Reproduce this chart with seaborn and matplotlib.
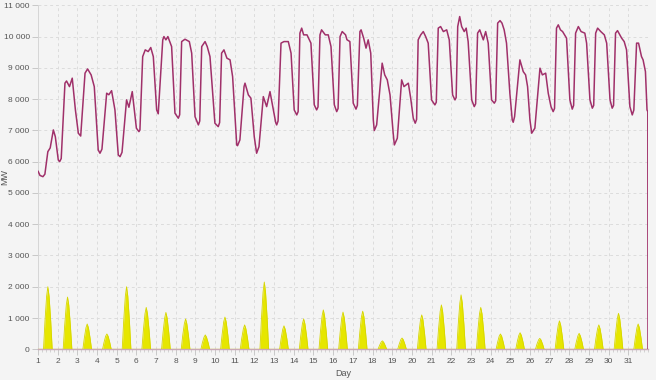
import numpy as np
import pandas as pd
import matplotlib
matplotlib.use("Agg")
import matplotlib.pyplot as plt
from matplotlib.ticker import MultipleLocator, FuncFormatter, AutoMinorLocator
import seaborn as sns

# ---- data ----
load_day = [1.0, 1.1, 1.25, 1.35, 1.5, 1.62, 1.78, 1.88, 2.03, 2.1, 2.18, 2.37, 2.45, 2.6, 2.74, 2.9,
            3.05, 3.17, 3.39, 3.52, 3.7, 3.86, 4.06, 4.15, 4.25, 4.49, 4.6, 4.74, 4.91,
            5.08, 5.17, 5.27, 5.5, 5.62, 5.79, 6.0, 6.13, 6.18, 6.32, 6.45, 6.6, 6.73, 6.86,
            7.03, 7.11, 7.34, 7.4, 7.5, 7.6, 7.79, 7.96, 8.13, 8.2, 8.3, 8.47, 8.69, 8.81,
            8.98, 9.15, 9.22, 9.32, 9.49, 9.6, 9.74, 9.99, 10.16, 10.23, 10.33, 10.45, 10.6, 10.76, 10.89,
            11.1, 11.14, 11.26, 11.47, 11.52, 11.69, 11.82, 11.99, 12.11, 12.23, 12.45, 12.62, 12.79, 12.96,
            13.08, 13.13, 13.2, 13.35, 13.5, 13.72, 13.86, 14.02, 14.15, 14.22, 14.31, 14.4, 14.5, 14.67, 14.87,
            15.04, 15.16, 15.23, 15.33, 15.41, 15.6, 15.75, 15.89, 16.06, 16.18, 16.25, 16.35, 16.46, 16.63, 16.7, 16.85,
            17.02, 17.16, 17.23, 17.36, 17.42, 17.55, 17.67, 17.78, 17.91, 18.04, 18.09, 18.21, 18.49, 18.62, 18.75, 18.89,
            19.05, 19.11, 19.26, 19.48, 19.6, 19.82, 19.94, 20.07, 20.17, 20.24, 20.32, 20.45, 20.58, 20.7, 20.83,
            21.0, 21.17, 21.24, 21.34, 21.46, 21.6, 21.77, 21.9, 22.07, 22.19, 22.25, 22.33, 22.43, 22.53, 22.66, 22.76, 22.86,
            23.04, 23.17, 23.24, 23.34, 23.45, 23.63, 23.75, 23.88, 24.05, 24.19, 24.26, 24.36, 24.48, 24.58, 24.69, 24.81,
            24.98, 25.1, 25.15, 25.22, 25.49, 25.66, 25.78, 25.88, 26.0, 26.09, 26.25, 26.51, 26.63, 26.8, 26.93,
            27.07, 27.18, 27.25, 27.35, 27.44, 27.55, 27.66, 27.86, 28.03, 28.15, 28.22, 28.32, 28.46, 28.6, 28.79, 28.88,
            29.05, 29.17, 29.24, 29.34, 29.44, 29.6, 29.78, 29.9, 30.07, 30.18, 30.25, 30.35, 30.45, 30.66, 30.79, 30.91,
            31.08, 31.2, 31.28, 31.42, 31.52, 31.67, 31.75, 31.87, 31.95, 31.99, 32.0]
load_mw = [5700, 5560, 5520, 5600, 6320, 6440, 7015, 6800, 6055, 6000, 6100, 8510, 8580, 8400, 8670, 7660,
           6910, 6820, 8830, 8965, 8775, 8400, 6375, 6270, 6400, 8190, 8140, 8270, 7655,
           6215, 6160, 6300, 7975, 7740, 8240, 7070, 6960, 7015, 9360, 9575, 9520, 9650, 9360,
           7655, 7530, 9895, 10000, 9895, 10000, 9680, 7550, 7390, 7500, 9840, 9915, 9840, 9470,
           7440, 7175, 7300, 9680, 9840, 9680, 9360, 7230, 7120, 7250, 9470, 9575, 9310, 9255, 8720,
           6535, 6510, 6695, 8400, 8510, 8135, 8030, 6800, 6270, 6480, 8080, 7760, 8240, 7655,
           7250, 7175, 7300, 9790, 9840, 9840, 9470, 7655, 7495, 7600, 10110, 10270, 10055, 10055, 9790,
           7815, 7655, 7750, 10055, 10215, 10055, 10055, 9680, 7815, 7600, 7700, 10000, 10160, 10055, 9900, 9840,
           7870, 7680, 7800, 10160, 10215, 9950, 9630, 9895, 9470, 7335, 6995, 7175, 9150, 8775, 8615, 8135,
           6910, 6535, 6750, 8615, 8400, 8510, 8030, 7390, 7230, 7350, 9895, 10055, 10160, 10000, 9790,
           7975, 7815, 7900, 10270, 10320, 10160, 10215, 9895, 8135, 7975, 8050, 10320, 10640, 10320, 10160, 10270, 9840,
           7975, 7760, 7850, 10110, 10215, 9895, 10160, 9790, 7975, 7870, 7950, 10430, 10510, 10430, 10215, 9790,
           8190, 7335, 7260, 7440, 9255, 8880, 8775, 8400, 7335, 6910, 7070, 8990, 8775, 8830, 8190,
           7760, 7600, 7700, 10270, 10375, 10215, 10160, 9950, 7975, 7680, 7800, 10110, 10320, 10160, 10110, 9790,
           7975, 7710, 7800, 10110, 10270, 10160, 10055, 9790, 7975, 7710, 7800, 10110, 10190, 9950, 9840, 9575,
           7760, 7495, 7650, 9790, 9790, 9360, 9255, 8880, 7655, 7600, 0]

solar_hours = [6.7, 8.5, 10.5, 12, 13.5, 15.5, 17.3]
solar_rows = [
    [0, 900, 1700, 2000, 1700, 900, 0],
    [0, 750, 1420, 1670, 1420, 750, 0],
    [0, 360, 690, 810, 690, 360, 0],
    [0, 220, 420, 490, 420, 220, 0],
    [0, 900, 1700, 2000, 1700, 900, 0],
    [0, 600, 1140, 1340, 1140, 600, 0],
    [0, 530, 1000, 1180, 1000, 530, 0],
    [0, 440, 820, 970, 820, 440, 0],
    [0, 210, 390, 460, 390, 210, 0],
    [0, 460, 880, 1030, 880, 460, 0],
    [0, 350, 660, 780, 660, 350, 0],
    [0, 970, 1830, 2150, 1830, 970, 0],
    [0, 340, 640, 750, 640, 340, 0],
    [0, 440, 820, 970, 820, 440, 0],
    [0, 570, 1070, 1260, 1070, 570, 0],
    [0, 540, 1010, 1190, 1010, 540, 0],
    [0, 550, 1040, 1220, 1040, 550, 0],
    [0, 120, 230, 270, 230, 120, 0],
    [0, 160, 310, 360, 310, 160, 0],
    [0, 500, 940, 1100, 940, 500, 0],
    [0, 640, 1210, 1420, 1210, 640, 0],
    [0, 780, 1480, 1740, 1480, 780, 0],
    [0, 600, 1140, 1340, 1140, 600, 0],
    [0, 220, 420, 490, 420, 220, 0],
    [0, 240, 450, 530, 450, 240, 0],
    [0, 160, 300, 350, 300, 160, 0],
    [0, 410, 770, 910, 770, 410, 0],
    [0, 230, 430, 510, 430, 230, 0],
    [0, 350, 660, 780, 660, 350, 0],
    [0, 520, 980, 1150, 980, 520, 0],
    [0, 360, 690, 810, 690, 360, 0],
]
day_ticks = list(range(1, 32))

# ---- build frames ----
load_df = pd.DataFrame({"day": load_day, "mw": load_mw})
s_day, s_mw = [], []
for i, row in enumerate(solar_rows):
    d = i + 1
    s_day.append(d)
    s_mw.append(0)
    for h, v in zip(solar_hours, row):
        s_day.append(d + h / 24.0)
        s_mw.append(v)
s_day.append(32)
s_mw.append(0)
solar_df = pd.DataFrame({"day": s_day, "mw": s_mw})

# ---- styling ----
sns.set_theme(style="white")
bg = "#f4f4f4"
plt.rcParams["font.family"] = ["Liberation Sans", "DejaVu Sans"]

fig = plt.figure(figsize=(6.56, 3.80), dpi=100, facecolor=bg)
ax = fig.add_axes([38 / 656, 30.7 / 380, 610 / 656, 344 / 380])
ax.set_facecolor(bg)

ax.fill_between(solar_df["day"], solar_df["mw"], 0, color="#e6e600", lw=0, zorder=2)
sns.lineplot(data=solar_df, x="day", y="mw", ax=ax, color="#d6d600", lw=0.6, zorder=3)
sns.lineplot(data=load_df, x="day", y="mw", ax=ax, color="#a0306a", lw=1.1, zorder=4)

ax.set_xlim(1, 32)
ax.set_ylim(0, 11000)
ax.set_xticks(day_ticks)
ax.xaxis.set_minor_locator(AutoMinorLocator(5))
ax.yaxis.set_major_locator(MultipleLocator(1000))
ax.yaxis.set_minor_locator(MultipleLocator(200))
ax.yaxis.set_major_formatter(FuncFormatter(lambda v, p: f"{int(v):,}".replace(",", " ")))

ax.grid(True, which="major", color="#dcdcdc", lw=0.7, ls=(0, (3, 3)), zorder=0)
ax.tick_params(axis="both", which="major", labelsize=6, colors="#c8c8c8", labelcolor="#555555",
               length=4, width=0.7, direction="out", pad=2)
ax.tick_params(axis="both", which="minor", colors="#cccccc", length=2.5, width=0.6, direction="out")
ax.tick_params(axis="y", which="major", left=True)
ax.tick_params(axis="x", which="both", bottom=True)

for s in ["top", "right"]:
    ax.spines[s].set_visible(False)
ax.spines["left"].set_color("#d6d6d6")
ax.spines["left"].set_linewidth(0.7)
ax.spines["bottom"].set_color("#c9a7b5")
ax.spines["bottom"].set_linewidth(1.0)

ax.set_xlabel("Day", fontsize=6.5, color="#555555", labelpad=3)
ax.set_ylabel("MW", fontsize=6.5, color="#555555")
ax.yaxis.set_label_coords(-0.047, 0.5)

fig.savefig("out.png", dpi=100, facecolor=bg)
